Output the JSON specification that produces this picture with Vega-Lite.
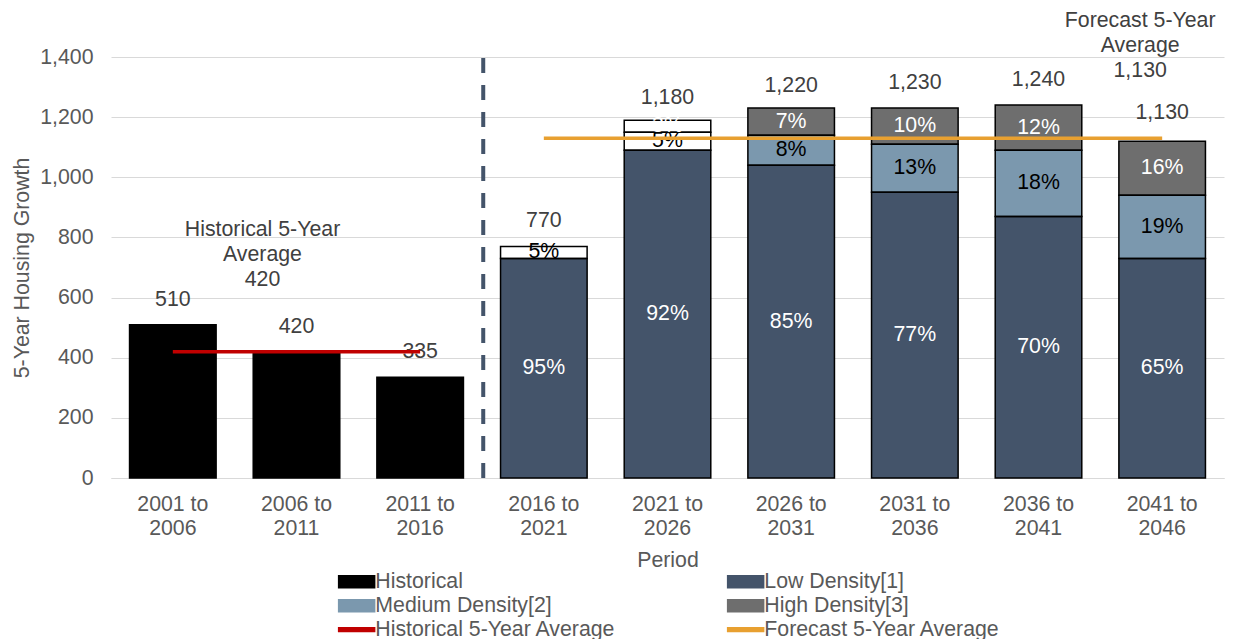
{
  "$schema": "https://vega.github.io/schema/vega-lite/v6.json",
  "width": 1113,
  "height": 421,
  "autosize": {"type": "none"},
  "padding": {"left": 111, "top": 57, "right": 15, "bottom": 161},
  "background": "white",
  "config": {
    "font": "Liberation Sans",
    "view": {"stroke": null},
    "axis": {"labelFont": "Liberation Sans", "titleFont": "Liberation Sans", "labelColor": "#595959", "titleColor": "#595959", "labelFontSize": 21.3, "titleFontSize": 21.3, "titleFontWeight": "normal"}
  },
  "datasets": {
    "bars": [
      {"period": "2001 to 2006", "series": "Historical", "value": 510, "pct": ""},
      {"period": "2006 to 2011", "series": "Historical", "value": 420, "pct": ""},
      {"period": "2011 to 2016", "series": "Historical", "value": 335, "pct": ""},
      {"period": "2016 to 2021", "series": "Low Density", "value": 730, "pct": "95%"},
      {"period": "2016 to 2021", "series": "Medium Density (unshaded)", "value": 40, "pct": "5%"},
      {"period": "2021 to 2026", "series": "Low Density", "value": 1090, "pct": "92%"},
      {"period": "2021 to 2026", "series": "Medium Density (unshaded)", "value": 60, "pct": "5%"},
      {"period": "2021 to 2026", "series": "High Density (unshaded)", "value": 40, "pct": "3%"},
      {"period": "2026 to 2031", "series": "Low Density", "value": 1040, "pct": "85%"},
      {"period": "2026 to 2031", "series": "Medium Density", "value": 100, "pct": "8%"},
      {"period": "2026 to 2031", "series": "High Density", "value": 90, "pct": "7%"},
      {"period": "2031 to 2036", "series": "Low Density", "value": 950, "pct": "77%"},
      {"period": "2031 to 2036", "series": "Medium Density", "value": 160, "pct": "13%"},
      {"period": "2031 to 2036", "series": "High Density", "value": 120, "pct": "10%"},
      {"period": "2036 to 2041", "series": "Low Density", "value": 870, "pct": "70%"},
      {"period": "2036 to 2041", "series": "Medium Density", "value": 220, "pct": "18%"},
      {"period": "2036 to 2041", "series": "High Density", "value": 150, "pct": "12%"},
      {"period": "2041 to 2046", "series": "Low Density", "value": 730, "pct": "65%"},
      {"period": "2041 to 2046", "series": "Medium Density", "value": 210, "pct": "19%"},
      {"period": "2041 to 2046", "series": "High Density", "value": 180, "pct": "16%"}
    ],
    "totals": [
      {"period": "2001 to 2006", "total": 510},
      {"period": "2006 to 2011", "total": 420},
      {"period": "2011 to 2016", "total": 335},
      {"period": "2016 to 2021", "total": 770},
      {"period": "2021 to 2026", "total": 1180},
      {"period": "2026 to 2031", "total": 1220},
      {"period": "2031 to 2036", "total": 1230},
      {"period": "2036 to 2041", "total": 1240},
      {"period": "2041 to 2046", "total": 1130}
    ],
    "averages": [
      {"series": "Historical 5-Year Average", "start": "2001 to 2006", "end": "2011 to 2016", "labelAt": "2006 to 2011", "value": 420, "title": "Historical 5-Year"},
      {"series": "Forecast 5-Year Average", "start": "2016 to 2021", "end": "2041 to 2046", "labelAt": "2041 to 2046", "value": 1130, "title": "Forecast 5-Year"}
    ]
  },
  "layer": [
    {
      "data": {"name": "bars"},
      "transform": [
        {"calculate": "indexof(['Historical','Low Density','Medium Density','Medium Density (unshaded)','High Density','High Density (unshaded)'], datum.series)", "as": "ord"},
        {"stack": "value", "groupby": ["period"], "sort": [{"field": "ord", "order": "ascending"}], "as": ["v0", "v1"]}
      ],
      "mark": {"type": "bar"},
      "encoding": {
        "x": {"field": "period", "type": "nominal", "sort": null,
          "scale": {"paddingInner": 0.3, "paddingOuter": 0.15},
          "axis": {"title": "Period", "labelAngle": 0, "ticks": false, "domainColor": "#D9D9D9", "domainWidth": 1,
            "labelExpr": "[slice(datum.label,0,7), slice(datum.label,8)]", "labelLineHeight": 24, "labelPadding": 15, "titlePadding": 11}},
        "y": {"field": "v0", "type": "quantitative",
          "scale": {"domain": [0, 1400], "nice": false},
          "axis": {"title": "5-Year Housing Growth", "values": [0,200,400,600,800,1000,1200,1400], "format": ",d", "ticks": false, "domain": false, "gridColor": "#D9D9D9", "labelPadding": 18, "titlePadding": 7, "labelOverlap": false}},
        "y2": {"field": "v1"},
        "color": {"field": "series", "type": "nominal",
          "scale": {
            "domain": ["Historical", "Low Density", "Medium Density", "High Density", "Historical 5-Year Average", "Forecast 5-Year Average", "Medium Density (unshaded)", "High Density (unshaded)"],
            "range": ["#000000", "#44546A", "#7B98AE", "#6E6E6E", "#C00000", "#E8A030", "#FFFFFF", "#FFFFFF"]
          },
          "legend": {
            "title": null,
            "orient": "none",
            "legendX": 235,
            "legendY": 514,
            "columns": 2,
            "direction": "horizontal",
            "gridAlign": "each",
            "columnPadding": 108,
            "rowPadding": 2,
            "symbolSize": 144,
            "symbolType": {"expr": "indexof(['Historical 5-Year Average','Forecast 5-Year Average'], datum.value) >= 0 ? 'M-3,-0.3H3V0.3H-3Z' : 'M-3,-1H3V1H-3Z'"},
            "labelOffset": 8,
            "labelFontSize": 21.3,
            "labelFont": "Liberation Sans",
            "labelColor": "#595959",
            "labelLimit": 400,
            "values": ["Historical", "Low Density", "Medium Density", "High Density", "Historical 5-Year Average", "Forecast 5-Year Average"],
            "labelExpr": "datum.label == 'Low Density' ? 'Low Density[1]' : datum.label == 'Medium Density' ? 'Medium Density[2]' : datum.label == 'High Density' ? 'High Density[3]' : datum.label"
          }
        }
      }
    },
    {
      "data": {"name": "bars"},
      "transform": [
        {"calculate": "indexof(['Historical','Low Density','Medium Density','Medium Density (unshaded)','High Density','High Density (unshaded)'], datum.series)", "as": "ord"},
        {"stack": "value", "groupby": ["period"], "sort": [{"field": "ord", "order": "ascending"}], "as": ["v0", "v1"]}
      ],
      "mark": {"type": "bar", "fill": null, "fillOpacity": 0, "stroke": "black", "strokeWidth": 1.5},
      "encoding": {
        "x": {"field": "period", "type": "nominal", "sort": null},
        "y": {"field": "v0", "type": "quantitative"},
        "y2": {"field": "v1"}
      }
    },
    {
      "data": {"name": "bars"},
      "transform": [
        {"calculate": "indexof(['Historical','Low Density','Medium Density','Medium Density (unshaded)','High Density','High Density (unshaded)'], datum.series)", "as": "ord"},
        {"stack": "value", "groupby": ["period"], "sort": [{"field": "ord", "order": "ascending"}], "as": ["v0", "v1"]},
        {"calculate": "(datum.v0 + datum.v1) / 2", "as": "mid"},
        {"filter": "datum.pct != ''"}
      ],
      "mark": {"type": "text", "fontSize": 21.3, "font": "Liberation Sans", "baseline": "middle"},
      "encoding": {
        "x": {"field": "period", "type": "nominal", "sort": null},
        "y": {"field": "mid", "type": "quantitative"},
        "text": {"field": "pct"},
        "color": {"condition": {"test": "indexof(datum.series, 'Medium') >= 0", "value": "#000000"}, "value": "#FFFFFF"}
      }
    },
    {
      "data": {"name": "totals"},
      "mark": {"type": "text", "fontSize": 21.3, "font": "Liberation Sans", "color": "#404040", "baseline": "middle", "dy": -25},
      "encoding": {
        "x": {"field": "period", "type": "nominal", "sort": null},
        "y": {"field": "total", "type": "quantitative"},
        "text": {"field": "total", "type": "quantitative", "format": ",d"}
      }
    },
    {
      "data": {"name": "averages"},
      "mark": {"type": "rule", "strokeWidth": 3.5},
      "encoding": {
        "x": {"field": "start", "type": "nominal", "sort": null, "bandPosition": 0.5},
        "x2": {"field": "end"},
        "y": {"field": "value", "type": "quantitative"},
        "color": {"field": "series", "type": "nominal", "legend": null}
      }
    },
    {
      "data": {"name": "averages"},
      "transform": [
        {"filter": "datum.value < 1000"},
        {"calculate": "[datum.title, 'Average', format(datum.value, ',d')]", "as": "lines"}
      ],
      "mark": {"type": "text", "fontSize": 21.3, "font": "Liberation Sans", "color": "#404040", "baseline": "alphabetic", "lineHeight": 25, "dx": -34, "dy": -116},
      "encoding": {
        "x": {"field": "labelAt", "type": "nominal", "sort": null},
        "y": {"field": "value", "type": "quantitative"},
        "text": {"field": "lines"}
      }
    },
    {
      "data": {"name": "averages"},
      "transform": [
        {"filter": "datum.value > 1000"},
        {"calculate": "[datum.title, 'Average', format(datum.value, ',d')]", "as": "lines"}
      ],
      "mark": {"type": "text", "fontSize": 21.3, "font": "Liberation Sans", "color": "#404040", "baseline": "alphabetic", "lineHeight": 25, "dx": -22, "dy": -111},
      "encoding": {
        "x": {"field": "labelAt", "type": "nominal", "sort": null},
        "y": {"field": "value", "type": "quantitative"},
        "text": {"field": "lines"}
      }
    },
    {
      "data": {"values": [{"period": "2016 to 2021", "lo": 0, "hi": 1400}]},
      "mark": {"type": "rule", "color": "#44546A", "strokeWidth": 4, "strokeDash": [15, 12]},
      "encoding": {
        "x": {"field": "period", "type": "nominal", "sort": null, "bandPosition": -0.2},
        "y": {"field": "lo", "type": "quantitative"},
        "y2": {"field": "hi"}
      }
    }
  ]
}
